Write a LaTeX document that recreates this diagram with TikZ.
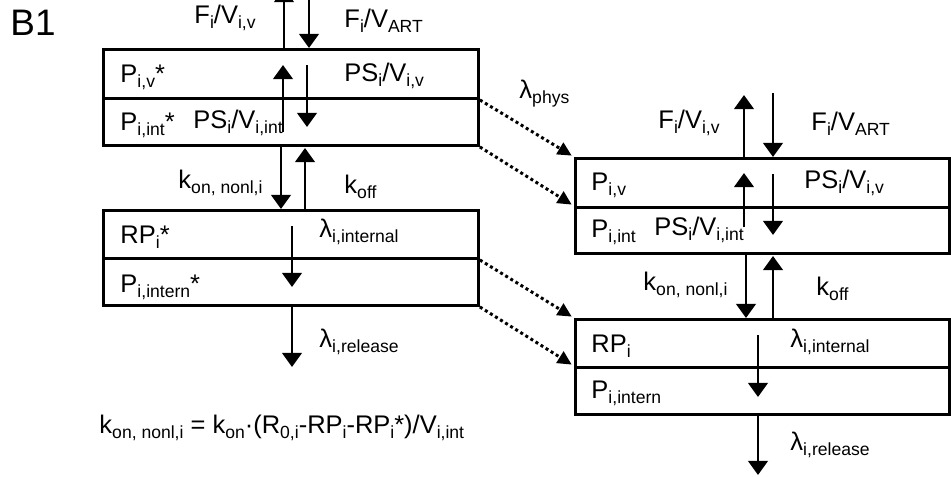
\documentclass[tikz,border=0pt]{standalone}
\usepackage{fontspec}
\setmainfont{Liberation Sans}
\usetikzlibrary{arrows.meta,calc}
\newcommand\sbx[1]{\raisebox{-3pt}{\fontsize{10}{12}\selectfont #1}}
\newcommand\fsz{\fontsize{14.5}{16}\selectfont}
\begin{document}
\begin{tikzpicture}[x=0.02cm,y=-0.02cm,line width=1.7pt,
  arr/.style={-{Triangle[width=11pt,length=8pt]}},
  dotarr/.style={line width=1.7pt,dash pattern=on 1.7pt off 1.7pt,shorten >=1.5pt,-{Triangle[width=7.5pt,length=8pt]}},
  lbl/.style={anchor=base west,inner sep=0pt,font=\fsz},
  comp/.style={draw,anchor=north west,minimum width=7.5cm,inner sep=0pt}]
\useasboundingbox (0,0) rectangle (951,477);
% compartments
\node[comp,minimum height=0.98cm] (L1a) at (102,48) {};
\node[comp,minimum height=0.94cm] (L1b) at (102,97) {};
\node[comp,minimum height=0.96cm] (L2a) at (102,209) {};
\node[comp,minimum height=0.94cm] (L2b) at (102,257) {};
\node[comp,minimum width=7.48cm,minimum height=0.98cm] (R1a) at (574,157) {};
\node[comp,minimum width=7.48cm,minimum height=0.92cm] (R1b) at (574,206) {};
\node[comp,minimum width=7.48cm,minimum height=0.96cm] (R2a) at (574,318) {};
\node[comp,minimum width=7.48cm,minimum height=0.94cm] (R2b) at (574,366) {};
% labels
\node[lbl,font=\fontsize{21}{23}\selectfont] (b1) at (9,35) {B1};
\node[lbl] (t1) at (193,23) {F\sbx{i}/V\sbx{i,v}};
\node[lbl] (t2) at (343,27) {F\sbx{i}/V\sbx{ART}};
\node[lbl] (t3) at (119,82) {P\sbx{i,v}*};
\node[lbl] (t4) at (343,81) {PS\sbx{i}/V\sbx{i,v}};
\node[lbl] (t5) at (119,130) {P\sbx{i,int}*};
\node[lbl] (t6) at (192,128) {PS\sbx{i}/V\sbx{i,int}};
\node[lbl] (t7) at (177,188) {k\sbx{on, nonl,i}};
\node[lbl] (t8) at (343,193) {k\sbx{off}};
\node[lbl] (t9) at (119,243) {RP\sbx{i}*};
\node[lbl] (t10) at (318,237) {λ\sbx{i,internal}};
\node[lbl] (t11) at (119,292) {P\sbx{i,intern}*};
\node[lbl] (t12) at (318,347) {λ\sbx{i,release}};
\node[lbl] (form) at (98,433) {k\sbx{on, nonl,i} = k\sbx{on}·(R\sbx{0,i}-RP\sbx{i}-RP\sbx{i}*)/V\sbx{i,int}};
\node[lbl] (phys) at (518,98) {λ\sbx{phys}};
\node[lbl] (s1) at (657,128) {F\sbx{i}/V\sbx{i,v}};
\node[lbl] (s2) at (810,130) {F\sbx{i}/V\sbx{ART}};
\node[lbl] (s3) at (590,190) {P\sbx{i,v}};
\node[lbl] (s4) at (803,188) {PS\sbx{i}/V\sbx{i,v}};
\node[lbl] (s5) at (590,237) {P\sbx{i,int}};
\node[lbl] (s6) at (653,235) {PS\sbx{i}/V\sbx{i,int}};
\node[lbl] (s7) at (642,290) {k\sbx{on, nonl,i}};
\node[lbl] (s8) at (815,295) {k\sbx{off}};
\node[lbl] (s9) at (590,352) {RP\sbx{i}};
\node[lbl] (s10) at (789,347) {λ\sbx{i,internal}};
\node[lbl] (s11) at (590,398) {P\sbx{i,intern}};
\node[lbl] (s12) at (789,450) {λ\sbx{i,release}};
% free ends
\coordinate (lu1) at (284,-12);
\coordinate (ld1) at (309,-2);
\coordinate (lu2a) at (283,132); \coordinate (lu2b) at (283,65);
\coordinate (ld2a) at (307,65);  \coordinate (ld2b) at (307,127);
\coordinate (li1) at (292,226);  \coordinate (li2) at (292,287);
\coordinate (lr) at (292,367);
\coordinate (ru1) at (744,95);
\coordinate (rd1) at (773,93);
\coordinate (ru2a) at (744,227); \coordinate (ru2b) at (744,173);
\coordinate (rd2a) at (773,174); \coordinate (rd2b) at (773,235);
\coordinate (ri1) at (758,335);  \coordinate (ri2) at (758,397);
\coordinate (rr) at (758,475);
% left arrows
\draw[arr] ($(L1a.north west)+(182,0)$) -- (lu1);
\draw[arr] (ld1) -- ($(L1a.north west)+(207,0)$);
\draw[arr] (lu2a) -- (lu2b);
\draw[arr] (ld2a) -- (ld2b);
\draw[arr] ($(L1b.south west)+(179,0)$) -- ($(L2a.north west)+(179,0)$);
\draw[arr] ($(L2a.north west)+(203,0)$) -- ($(L1b.south west)+(203,1)$);
\draw[arr] (li1) -- (li2);
\draw[arr] ($(L2b.south west)+(190,0)$) -- (lr);
% right arrows
\draw[arr] ($(R1a.north west)+(170,0)$) -- (ru1);
\draw[arr] (rd1) -- ($(R1a.north west)+(199,0)$);
\draw[arr] (ru2a) -- (ru2b);
\draw[arr] (rd2a) -- (rd2b);
\draw[arr] ($(R1b.south west)+(172,0)$) -- ($(R2a.north west)+(172,0)$);
\draw[arr] ($(R2a.north west)+(199,0)$) -- ($(R1b.south west)+(199,1)$);
\draw[arr] (ri1) -- (ri2);
\draw[arr] ($(R2b.south west)+(184,0)$) -- (rr);
% dotted transfer arrows
\draw[dotarr] (L1a.south east) -- (R1a.north west);
\draw[dotarr] (L1b.south east) -- (R1b.north west);
\draw[dotarr] (L2a.south east) -- (R2a.north west);
\draw[dotarr] (L2b.south east) -- (R2b.north west);
\end{tikzpicture}
\end{document}
